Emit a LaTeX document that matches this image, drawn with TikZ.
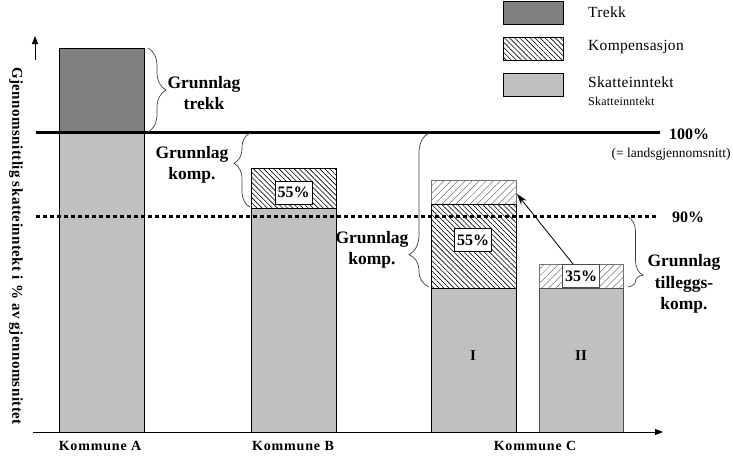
\documentclass[tikz,border=0pt]{standalone}
\usepackage{fontspec}
\setmainfont{Liberation Serif}
\newfontfamily\spacedfont[LetterSpace=6]{Liberation Serif}
\newfontfamily\ylabfont[LetterSpace=3]{Liberation Serif}
\newfontfamily\legfont[LetterSpace=2]{Liberation Serif}
\usetikzlibrary{patterns.meta,decorations.pathreplacing,arrows.meta}
\definecolor{skgray}{HTML}{C0C0C0}
\definecolor{trgray}{HTML}{808080}
\begin{document}
\begin{tikzpicture}[x=1pt,y=-1pt,
  bar/.style={draw=black,line width=0.8pt},
  sk/.style={bar,fill=skgray},
  tr/.style={bar,fill=trgray},
  komp/.style={bar,pattern={Lines[angle=-45,distance=3.6pt,line width=0.6pt]}},
  tk/.style={draw=black!55,line width=0.7pt,pattern={Lines[angle=45,distance=5pt,line width=0.5pt]},pattern color=black!55},
  pct/.style={draw=black,line width=0.8pt,fill=white,font=\bfseries\fontsize{16}{16}\selectfont,inner sep=0pt,minimum width=37pt,minimum height=23pt},
  brace/.style args={#1/#2}{decorate,decoration={brace,amplitude=#1,aspect=#2},draw=black!75,line width=0.7pt},
  lbl/.style={font=\bfseries\fontsize{17.5}{21.5}\selectfont,align=center},
  leg/.style={anchor=west,font=\legfont\fontsize{15.5}{15.5}\selectfont,inner sep=0pt},
  kom/.style={font=\spacedfont\bfseries\fontsize{14}{14}\selectfont},
  pctlab/.style={font=\bfseries\fontsize{16}{16}\selectfont},
  roman/.style={font=\bfseries\fontsize{15}{15}\selectfont},
  axis/.style={line width=0.8pt,-{Triangle[length=8pt,width=6pt]}}
]
\useasboundingbox (0,0) rectangle (733,455);

% legend
\draw[tr] (503,1) rectangle (563,24);
\draw[komp] (503,37) rectangle (563,60);
\draw[sk] (503,73) rectangle (563,96);
\node[leg] (lt) at (588,12) {Trekk};
\node[leg] (lk) at (588,47) {Kompensasjon};
\node[leg] (ls) at (588,82) {Skatteinntekt};
\node[leg,font=\legfont\fontsize{12}{12}\selectfont] (ls2) at (588,101) {Skatteinntekt};

% bar A
\draw[tr] (59,48) rectangle (144,132);
\draw[sk] (59,132) rectangle (144,432);
% bar B
\draw[komp] (251,168) rectangle (336,208);
\draw[sk] (251,208) rectangle (336,432);
% bar C I
\draw[tk] (431,180) rectangle (516,204);
\draw[komp] (431,204) rectangle (516,288);
\draw[sk] (431,288) rectangle (516,432);
% bar C II
\draw[tk] (539,264) rectangle (623,288);
\draw[sk,draw=black!70] (539,288) rectangle (623,432);

% reference lines
\draw[line width=3pt] (36,132) -- (660,132);
\draw[line width=3pt,dash pattern=on 3.5pt off 3.5pt] (36,216) -- (656,216);

% percentage boxes
\node[pct] (pB) at (293.5,192.5) {55\%};
\node[pct] (pC1) at (473,240) {55\%};
\node[pct,draw=black!70] (pC2) at (581,276) {35\%};

% arrow
\coordinate (arrS) at (573,264);
\coordinate (arrE) at (517,194);
\draw[line width=0.8pt,-{Stealth[length=11pt,width=7pt]}] (arrS) -- (arrE);

% axes
\coordinate (xa0) at (33,432);
\coordinate (xa1) at (663,432);
\draw[axis] (xa0) -- (xa1);
\coordinate (ya0) at (35,60);
\coordinate (ya1) at (35,36);
\draw[axis] (ya0) -- (ya1);

% braces
\draw[brace=18pt/0.5] (148,48) -- (148,132);
\draw[brace=16pt/0.59] (250,207) -- (250,133);
\draw[brace=20pt/0.21] (429,287) -- (429,133);
\draw[brace=15pt/0.83] (628,217) -- (628,287);

% brace labels
\node[lbl] (gA) at (204,93) {Grunnlag\\trekk};
\node[lbl] (gB) at (192,165) {Grunnlag\\komp.};
\node[lbl] (gC) at (372,250) {Grunnlag\\komp.};
\node[lbl] (gD) at (684,284) {Grunnlag\\tilleggs-\\komp.};

% level labels
\node[pctlab] (l100) at (689,134) {100\%};
\node[font=\fontsize{13.5}{13.5}\selectfont] (lands) at (671,154) {(= landsgjennomsnitt)};
\node[pctlab] (l90) at (688,217) {90\%};

% roman numerals
\node[roman] (rI) at (473,356) {I};
\node[roman] (rII) at (581,356) {II};

% x labels
\node[kom] (kA) at (100,446) {Kommune A};
\node[kom] (kB) at (293,446) {Kommune B};
\node[kom] (kC) at (535,446) {Kommune C};

% y label
\node[rotate=-90,font=\ylabfont\bfseries\fontsize{15}{15}\selectfont] (ylab) at (16,246) {Gjennomsnittlig skatteinntekt i \% av gjennomsnittet};
\end{tikzpicture}
\end{document}
